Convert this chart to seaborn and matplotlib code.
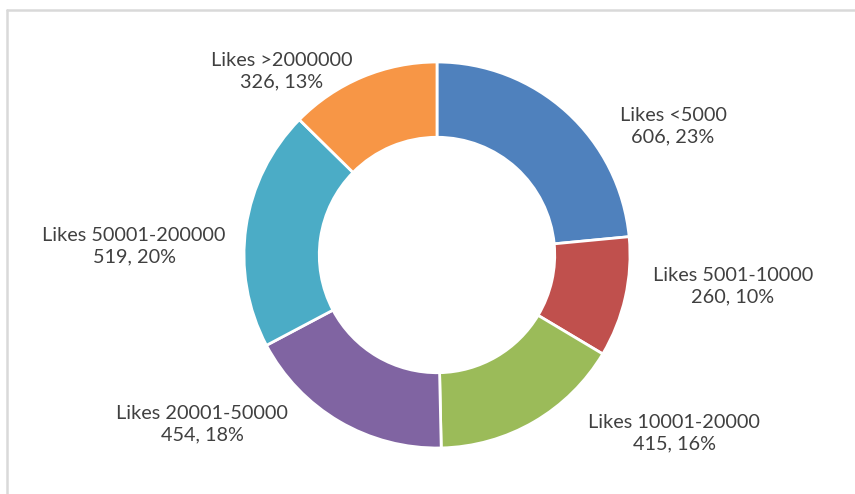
import matplotlib
matplotlib.use('Agg')
import matplotlib.pyplot as plt
import seaborn as sns
from matplotlib.lines import Line2D

# data
categories = ['Likes <5000', 'Likes 5001-10000', 'Likes 10001-20000',
              'Likes 20001-50000', 'Likes 50001-200000', 'Likes >2000000']
counts = [606, 260, 415, 454, 519, 326]
percents = [23, 10, 16, 18, 20, 13]

colors = ['#4F81BD', '#C0504D', '#9BBB59', '#8064A2', '#4BACC6', '#F79646']
# label centres in figure pixels (x from left, y from top)
label_pos = [(673, 126), (733, 286), (674, 433), (202, 424), (134, 246), (282, 71)]

sns.set_theme(style='white')
plt.rcParams['font.family'] = ['Lato', 'DejaVu Sans']

W, H = 855, 494
fig = plt.figure(figsize=(W / 100, H / 100), dpi=100)

#pie axes: centre and radius in pixels
cx, cy, r = 437, 255, 193
ax = fig.add_axes([(cx - r) / W, (H - cy - r) / H, 2 * r / W, 2 * r / H])
ax.pie(counts, colors=colors, startangle=90, counterclock=False, radius=1,
       wedgeprops=dict(width=0.39, edgecolor='white', linewidth=2))
ax.set_xlim(-1, 1)
ax.set_ylim(-1, 1)
ax.set_aspect('equal')
ax.axis('off')

for cat, n, p, (px, py) in zip(categories, counts, percents, label_pos):
    fig.text(px / W, 1 - py / H, f'{cat}\n{n}, {p}%', ha='center', va='center',
             fontsize=14.3, color='#404040', linespacing=1.35)

# chart border (grey frame, only top and left visible)
fig.add_artist(Line2D([7 / W, 7 / W], [0, 1 - 10 / H], color='#D9D9D9', lw=1.8,
                      transform=fig.transFigure))
fig.add_artist(Line2D([7 / W, 1], [1 - 10 / H, 1 - 10 / H], color='#D9D9D9', lw=1.8,
                      transform=fig.transFigure))

fig.savefig('out.png', dpi=100, facecolor='white')
plt.close()
